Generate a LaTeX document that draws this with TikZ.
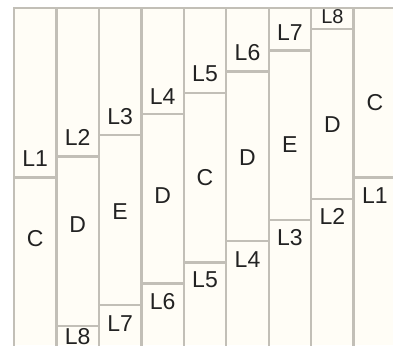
\documentclass[tikz,border=0pt]{standalone}
\usepackage{fontspec}
\setmainfont{Liberation Sans}
\definecolor{cream}{HTML}{FFFDF6}
\definecolor{rulegray}{HTML}{C2BFB7}
\definecolor{ink}{HTML}{222222}
\begin{document}
\begin{tikzpicture}[x=1pt,y=-1pt,
  lbl/.style={font=\fontsize{23}{25}\selectfont, text=ink, inner sep=0pt, anchor=center},
  sepline/.style={draw=rulegray, line width=2.3pt}]
\useasboundingbox (0,0) rectangle (393,345);
\fill[white] (0,0) rectangle (393,345);
\fill[cream] (14,8) rectangle (393,345);
\begin{scope}
\clip (0,0) rectangle (393,345);
% vertical separators
\foreach \x in {56.45,98.9,141.35,183.8,226.25,268.7,311.15,353.6}
  \draw[sepline] (\x,8) -- (\x,346);
% top splits
\foreach \x/\y in {14/177.6,56.45/156.4,98.9/135.2,141.35/114,183.8/92.8,226.25/71.6,268.7/50.4,311.15/29.2}
  \draw[sepline] (\x,\y) -- ++(42.45,0);
% bottom splits
\foreach \x/\y in {56.45/326,98.9/304.8,141.35/283.6,183.8/262.4,226.25/241.2,268.7/220,311.15/198.8,353.6/177.6}
  \draw[sepline] (\x,\y) -- ++(42.45,0);
% frame
\draw[sepline] (14,346) -- (14,8) -- (394,8);
\end{scope}
% top labels
\node[lbl] (t1) at (35.2,159) {L1};
\node[lbl] (t2) at (77.7,137) {L2};
\node[lbl] (t3) at (120.1,117) {L3};
\node[lbl] (t4) at (162.6,97) {L4};
\node[lbl] (t5) at (205.0,74) {L5};
\node[lbl] (t6) at (247.5,53) {L6};
\node[lbl] (t7) at (289.9,33) {L7};
\node[lbl,font=\fontsize{20}{22}\selectfont] (t8) at (332.4,17) {L8};
% block labels
\node[lbl] (k1) at (35.2,239) {C};
\node[lbl] (k2) at (77.7,225) {D};
\node[lbl] (k3) at (120.1,212) {E};
\node[lbl] (k4) at (162.6,196) {D};
\node[lbl] (k5) at (205.0,178) {C};
\node[lbl] (k6) at (247.5,158) {D};
\node[lbl] (k7) at (289.9,145) {E};
\node[lbl] (k8) at (332.4,125) {D};
\node[lbl] (k9) at (374.8,103) {C};
% bottom labels
\begin{scope}
\clip (0,0) rectangle (393,345);
\node[lbl] (b8) at (77.7,337) {L8};
\node[lbl] (b7) at (120.1,324) {L7};
\node[lbl] (b6) at (162.6,301.5) {L6};
\node[lbl] (b5) at (205.0,280) {L5};
\node[lbl] (b4) at (247.5,260) {L4};
\node[lbl] (b3) at (289.9,238) {L3};
\node[lbl] (b2) at (332.4,216) {L2};
\node[lbl] (b1) at (374.8,196) {L1};
\end{scope}
\end{tikzpicture}
\end{document}
